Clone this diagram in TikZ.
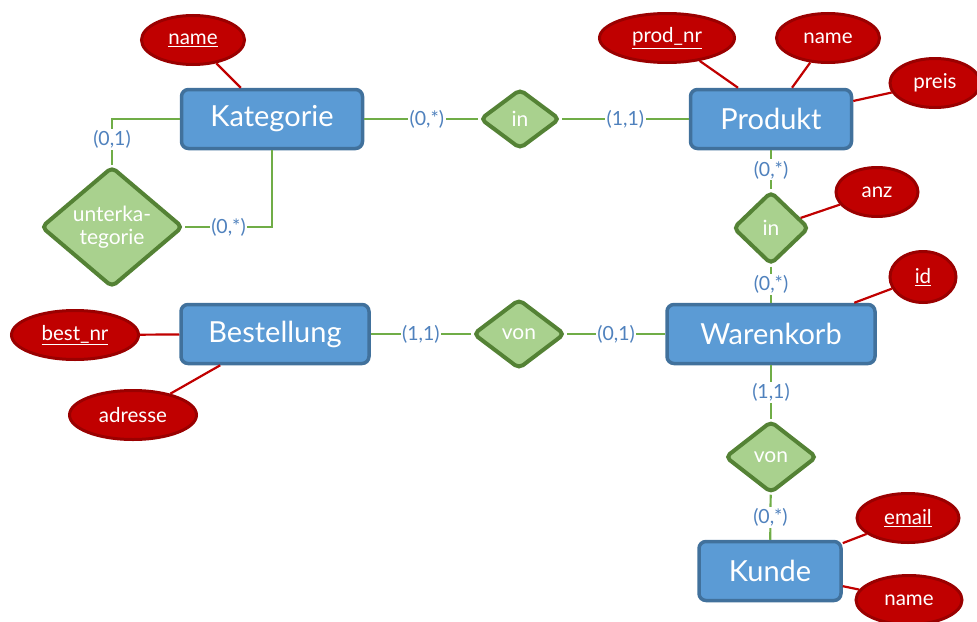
\documentclass[tikz,border=0pt]{standalone}
\usepackage{fontspec}
\setmainfont{Lato}
\usetikzlibrary{shapes.geometric}
\definecolor{boxfill}{HTML}{5B9BD5}
\definecolor{boxdraw}{HTML}{41719C}
\definecolor{attfill}{HTML}{C00000}
\definecolor{attdraw}{HTML}{9A0000}
\definecolor{relfill}{HTML}{A9D18E}
\definecolor{reldraw}{HTML}{548235}
\definecolor{conn}{HTML}{70AD47}
\definecolor{card}{HTML}{4F81BD}
\tikzset{
  entity/.style={draw=boxdraw, fill=boxfill, line width=3.5pt, rounded corners=7pt,
    text=white, font=\fontsize{29}{32}\selectfont, minimum height=59pt, inner sep=0pt},
  attr/.style={ellipse, draw=attdraw, fill=attfill, line width=3pt, text=white,
    font=\fontsize{20.5}{23}\selectfont, minimum height=49pt, inner sep=0pt},
  rel/.style={diamond, draw=reldraw, fill=relfill, line width=4pt, rounded corners=5pt,
    text=white, font=\fontsize{21}{23}\selectfont, inner sep=0pt, align=center},
  attline/.style={draw=attfill, line width=2.2pt},
  relline/.style={draw=conn, line width=2.2pt},
  cardlbl/.style={fill=white, text=card, font=\fontsize{19.5}{21}\selectfont, inner sep=1.5pt}
}
\newcommand{\ulx}[1]{\underline{#1}}
\begin{document}
\begin{tikzpicture}[x=1pt,y=-1pt]
\useasboundingbox (0,0) rectangle (977,621);
% entities
\node[entity, minimum width=181pt] (kat) at (272,119) {Kategorie};
\node[entity, minimum width=161pt] (prod) at (771,119) {Produkt};
\node[entity, minimum width=188pt] (best) at (275,334) {Bestellung};
\node[entity, minimum width=208pt] (wk) at (771,334) {Warenkorb};
\node[entity, minimum width=142pt] (kunde) at (770,571) {Kunde};
% relationships
\node[rel, minimum width=80pt, minimum height=60pt] (in1) at (520,119) {in};
\node[rel, minimum width=76pt, minimum height=73pt] (in2) at (771,228) {in};
\node[rel, minimum width=92pt, minimum height=70pt] (von1) at (519,334) {von};
\node[rel, minimum width=92pt, minimum height=72pt] (von2) at (771,457) {von};
\node[rel, minimum width=142pt, minimum height=104pt] (unter) at (112,227) {unterka-\\tegorie};
% attributes
\node[attr, minimum width=103pt] (katname) at (193,40) {\ulx{name}};
\node[attr, minimum width=135pt] (prodnr) at (667,38) {\ulx{prod\_nr}};
\node[attr, minimum width=103pt] (prodname) at (828,38) {name};
\node[attr, minimum width=90pt] (preis) at (935,83) {preis};
\node[attr, minimum width=82pt] (anz) at (877,192) {anz};
\node[attr, minimum width=66pt, minimum height=51pt] (id) at (923,277) {\ulx{id}};
\node[attr, minimum width=127pt] (bestnr) at (75,335) {\ulx{best\_nr}};
\node[attr, minimum width=127pt] (adresse) at (133,415) {adresse};
\node[attr, minimum width=102pt] (email) at (908,518) {\ulx{email}};
\node[attr, minimum width=106pt] (kname) at (909,600) {name};
% attribute lines
\draw[attline] (katname) -- (kat);
\draw[attline] (prodnr) -- ([xshift=-33pt]prod.north);
\draw[attline] (prodname) -- ([xshift=21pt]prod.north);
\draw[attline] (preis) -- (prod);
\draw[attline] (anz) -- (in2);
\draw[attline] (id) -- (wk);
\draw[attline] (bestnr) -- (best);
\draw[attline] (adresse) -- (best);
\draw[attline] (email) -- (kunde);
\draw[attline] (kname) -- (kunde);
% relationship lines
\draw[relline] (kat) -- (in1) node[cardlbl, pos=.55] {(0,*)};
\draw[relline] (in1) -- (prod) node[cardlbl, pos=.5] {(1,1)};
\draw[relline] (prod) -- (in2) node[cardlbl, pos=.5] {(0,*)};
\draw[relline] (in2) -- (wk) node[cardlbl, pos=.5] {(0,*)};
\draw[relline] (best) -- (von1) node[cardlbl, pos=.5] {(1,1)};
\draw[relline] (von1) -- (wk) node[cardlbl, pos=.5] {(0,1)};
\draw[relline] (wk) -- (von2) node[cardlbl, pos=.5] {(1,1)};
\draw[relline] (von2) -- (kunde) node[cardlbl, pos=.5] {(0,*)};
\draw[relline] (kat.west) -| (unter.north) node[cardlbl, pos=.72] {(0,1)};
\draw[relline] (kat.south) |- (unter.east) node[cardlbl, pos=.75] {(0,*)};
\end{tikzpicture}
\end{document}
